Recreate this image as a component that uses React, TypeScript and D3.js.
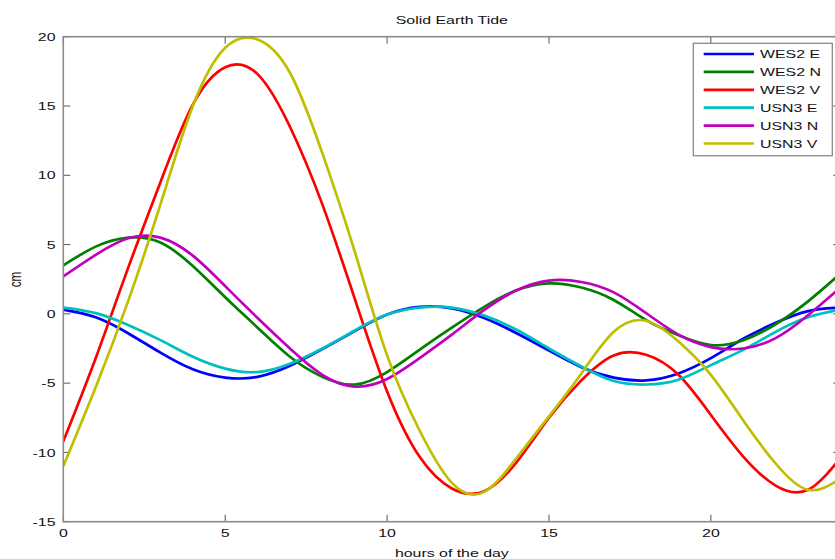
import React from 'react';
import * as d3 from 'd3';

const hours = [0, 1, 2, 3, 4, 5, 6, 7, 8, 9, 10, 11, 12, 13, 14, 15, 16, 17, 18, 19, 20, 21, 22, 23, 24];
const wes2E = [0.3, -0.25, -1.4, -2.8, -4.0, -4.6, -4.55, -3.75, -2.55, -1.25, -0.05, 0.5, 0.4, -0.3, -1.4, -2.65, -3.85, -4.6, -4.8, -4.3, -3.2, -1.8, -0.65, 0.2, 0.45];
const wes2N = [3.5, 4.85, 5.5, 5.15, 3.45, 1.2, -1.0, -3.1, -4.55, -5.1, -4.2, -2.6, -1.0, 0.5, 1.7, 2.2, 1.9, 1.0, -0.45, -1.55, -2.25, -1.9, -0.75, 0.9, 2.9];
const wes2V = [-9.2, -3.2, 3.3, 9.5, 15.1, 17.8, 17.3, 13.5, 7.9, 1.1, -5.6, -10.3, -12.6, -12.8, -10.7, -7.5, -4.8, -3.0, -2.95, -4.4, -7.3, -10.3, -12.4, -12.7, -10.4];
const usn3E = [0.45, 0.05, -0.8, -1.9, -3.1, -3.95, -4.2, -3.6, -2.5, -1.2, -0.05, 0.45, 0.45, -0.13, -1.15, -2.5, -3.8, -4.85, -5.1, -4.75, -3.7, -2.6, -1.3, -0.25, 0.3];
const usn3N = [2.7, 4.25, 5.45, 5.5, 4.2, 2.0, -0.3, -2.5, -4.4, -5.25, -4.7, -3.2, -1.5, 0.28, 1.7, 2.4, 2.3, 1.55, 0.05, -1.5, -2.4, -2.5, -1.75, -0.1, 1.9];
const usn3V = [-11, -5.3, 0.9, 7.9, 15.0, 19.2, 19.8, 17.4, 11.6, 4.5, -3.0, -8.4, -12.2, -12.85, -10.4, -7.4, -4.3, -1.3, -0.5, -2.0, -4.4, -7.7, -10.8, -12.7, -11.9];

const seriesNames = ['WES2 E', 'WES2 N', 'WES2 V', 'USN3 E', 'USN3 N', 'USN3 V'];
const seriesValues = [wes2E, wes2N, wes2V, usn3E, usn3N, usn3V];
const seriesColors = ['#0000ff', '#008000', '#ff0000', '#00bfbf', '#bf00bf', '#bfbf00'];
const xTicks = [0, 5, 10, 15, 20];
const yTicks = [-15, -10, -5, 0, 5, 10, 15, 20];
const titleText = 'Solid Earth Tide';
const xLabel = 'hours of the day';
const yLabel = 'cm';

const W = 835;
const H = 559;
const PL = 63.3, PR = 840.4, PT = 36.7, PB = 521.7;
const SX = 1.37;
const FS = 11.6;
const FONT = "'Liberation Sans', Arial, Helvetica, sans-serif";

function SText({ x, y, anchor = 'start', rotate = false, children }: any) {
  return (
    <g transform={`translate(${x},${y}) scale(${SX},1)${rotate ? ' rotate(-90)' : ''}`}>
      <text textAnchor={anchor} fontSize={FS} fontFamily={FONT} fill="#111">{children}</text>
    </g>
  );
}

export default function App() {
  const x = d3.scaleLinear().domain([0, 24]).range([PL, PR]);
  const y = d3.scaleLinear().domain([-15, 20]).range([PB, PT]);
  const line = d3.line<number>()
    .x((_, i) => x(hours[i]))
    .y((v) => y(v))
    .curve(d3.curveNatural);

  const tickLen = 7;
  const axisColor = '#8a8a8a';
  const tickColor = '#555';

  const legX0 = 693.3, legX1 = 832.3, legY0 = 43.3, legY1 = 155.7;
  const rowY = (i: number) => 54 + i * 17.9;

  return (
    <svg width={W} height={H} style={{ position: 'absolute', left: 0, top: 0, background: '#fff' }}>
      <defs>
        <clipPath id="plotclip">
          <rect x={PL} y={PT - 1.5} width={PR - PL} height={PB - PT + 1.5} />
        </clipPath>
      </defs>
      <rect x={0} y={0} width={W} height={H} fill="#fff" />

      {xTicks.map((t) => (
        <g key={'xt' + t}>
          <line x1={x(t)} x2={x(t)} y1={PB} y2={PB - tickLen} stroke={tickColor} strokeWidth={1} />
          <line x1={x(t)} x2={x(t)} y1={PT} y2={PT + tickLen} stroke={tickColor} strokeWidth={1} />
          <SText x={x(t)} y={PB + 15.3} anchor="middle">{String(t)}</SText>
        </g>
      ))}
      {yTicks.map((t) => (
        <g key={'yt' + t}>
          <line x1={PL} x2={PL + tickLen} y1={y(t)} y2={y(t)} stroke={tickColor} strokeWidth={1} />
          <line x1={PR} x2={PR - tickLen} y1={y(t)} y2={y(t)} stroke={tickColor} strokeWidth={1} />
          <SText x={55.5} y={y(t) + 4.2} anchor="end">{String(t)}</SText>
        </g>
      ))}

      <g clipPath="url(#plotclip)">
        {seriesValues.map((vals, i) => (
          <path key={seriesNames[i]} d={line(vals) || ''} fill="none" stroke={seriesColors[i]} strokeWidth={2.7} strokeLinejoin="round" />
        ))}
      </g>

      <rect x={PL} y={PT} width={PR - PL} height={PB - PT} fill="none" stroke={axisColor} strokeWidth={1.6} />

      <rect x={legX0} y={legY0} width={legX1 - legX0} height={legY1 - legY0} fill="#fff" stroke={axisColor} strokeWidth={1.3} />
      {seriesNames.map((n, i) => (
        <g key={'leg' + n}>
          <line x1={703.7} x2={754} y1={rowY(i)} y2={rowY(i)} stroke={seriesColors[i]} strokeWidth={2.7} />
          <SText x={760} y={rowY(i) + 4.3}>{n}</SText>
        </g>
      ))}

      <SText x={(PL + PR) / 2} y={24} anchor="middle">{titleText}</SText>
      <SText x={(PL + PR) / 2} y={556.5} anchor="middle">{xLabel}</SText>
      <SText x={20.7} y={279.5} anchor="middle" rotate>{yLabel}</SText>
    </svg>
  );
}
